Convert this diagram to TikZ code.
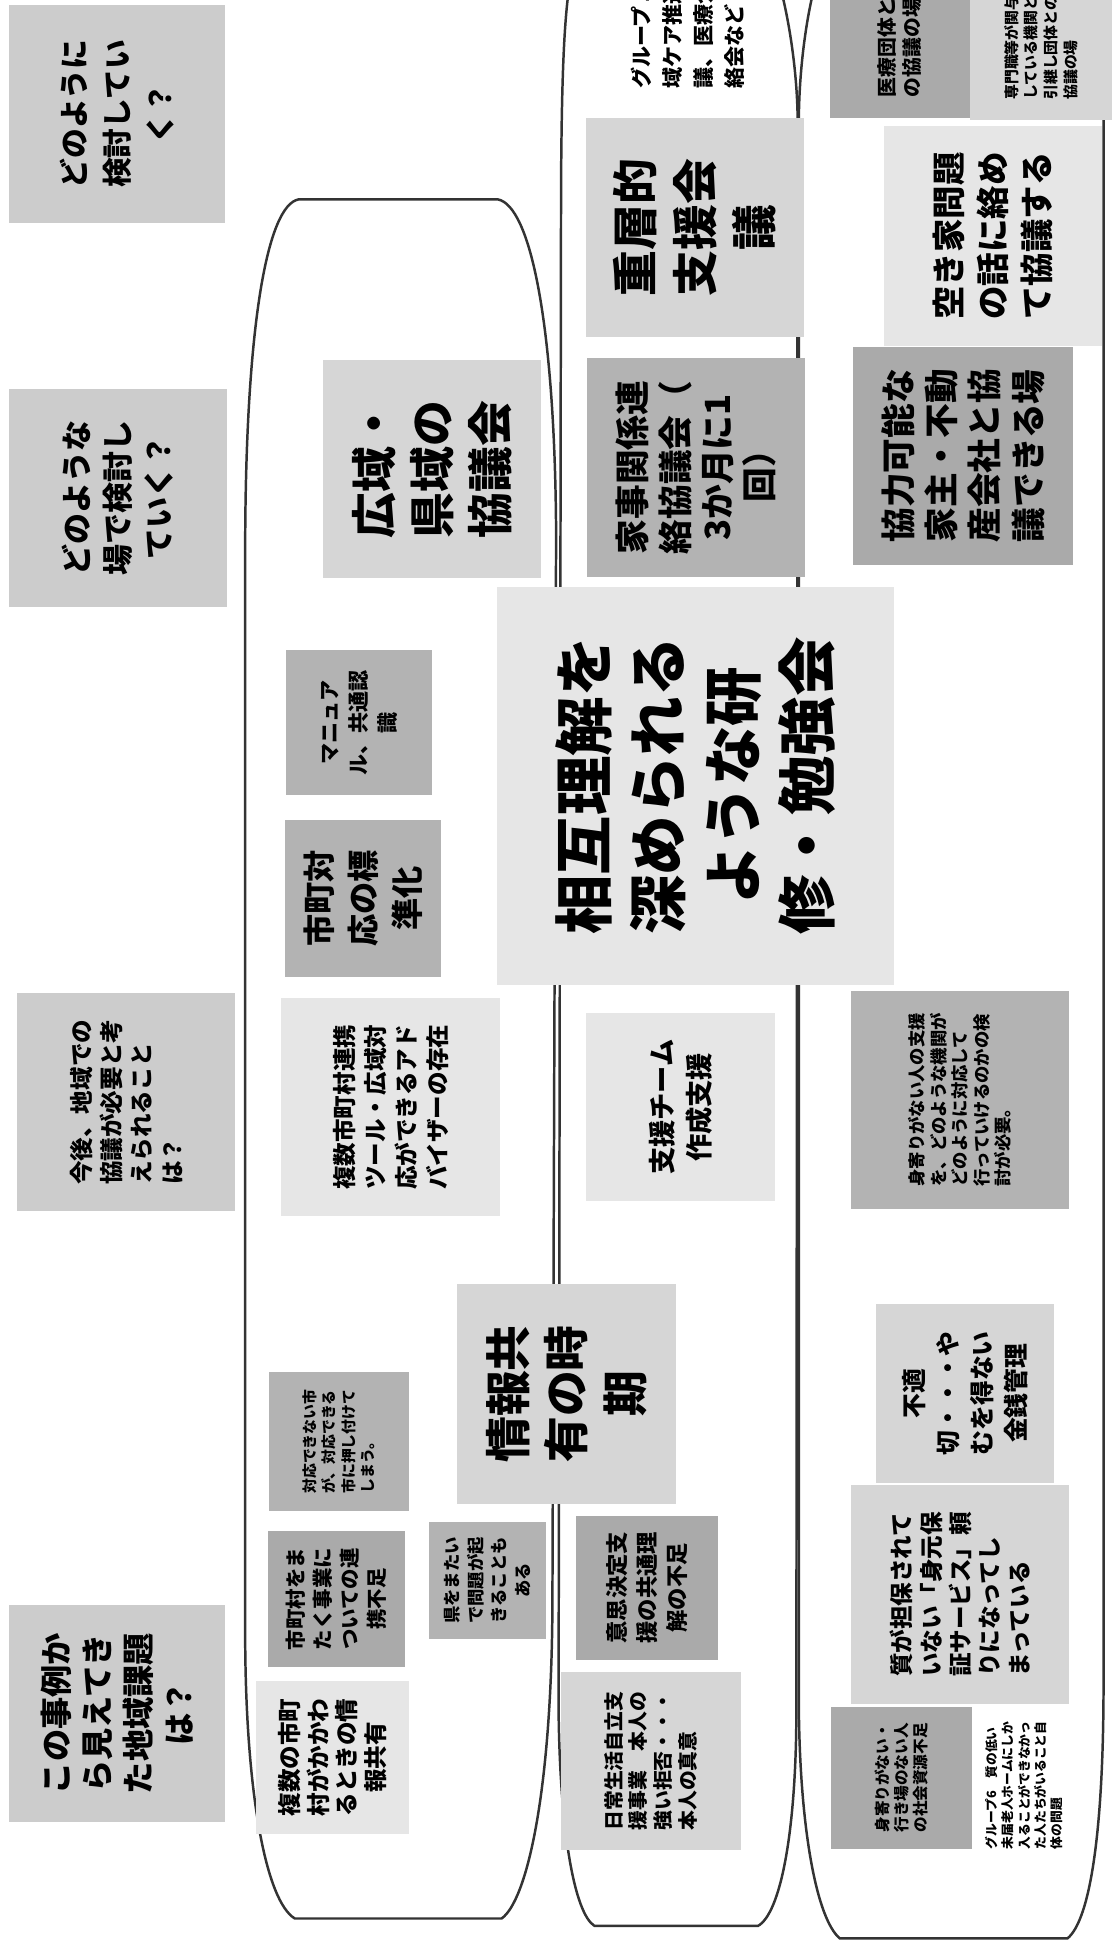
\documentclass[tikz,border=0pt]{standalone}
\usepackage{fontspec}
\newfontfamily\jp{Noto Sans CJK JP}
\definecolor{qgray}{HTML}{CCCCCC}
\definecolor{pale}{HTML}{E6E6E6}
\definecolor{light}{HTML}{D6D6D6}
\definecolor{mid}{HTML}{B3B3B3}
\definecolor{dark}{HTML}{AAAAAA}
\tikzset{
  note/.style={rotate=90, inner sep=0pt, align=center},
  fs/.style 2 args={font={\jp\bfseries\fontsize{#1}{#2}\selectfont}},
  wh/.style 2 args={minimum width=#2pt, minimum height=#1pt},
  ring/.style={draw=black!80, line width=2pt},
}

\begin{document}
\begin{tikzpicture}[x=1pt,y=-1pt]
    \useasboundingbox (0,0) rectangle (899,1568);
    \clip (0,0) rectangle (899,1568);
    \draw[ring] (241,161) -- (402,161) .. controls (428,166) and (448,260) .. (449,430) -- (446,1300) .. controls (445,1450) and (425,1535) .. (405,1549) -- (238,1549) .. controls (215,1535) and (199,1450) .. (198,1330) -- (198,430) .. controls (199,260) and (216,166) .. (241,161) -- cycle;
    \draw[ring] (490,-60) .. controls (460,-55) and (454,-20) .. (453,150) -- (451,1380) .. controls (452,1480) and (464,1545) .. (480,1555) -- (612,1555) .. controls (630,1545) and (643,1480) .. (643,1380) -- (644,94) .. controls (643,30) and (625,-52) .. (605,-60) -- cycle;
    \draw[ring] (690,-70) .. controls (664,-62) and (646,20) .. (645,94) -- (645,1380) .. controls (646,1480) and (660,1550) .. (678,1565) -- (862,1565) .. controls (880,1550) and (891,1480) .. (891,1360) -- (891,100) .. controls (891,20) and (882,-62) .. (862,-70) -- cycle;

    \node[note, fill=qgray, wh={175}{176}, fs={24}{35}] (q1) at (94.5,92) {どのように\\検討してい\\く？};
    \node[note, fill=qgray, wh={176}{176}, fs={25}{33}] (q2) at (95,402) {どのような\\場で検討し\\ていく？};
    \node[note, fill=qgray, wh={176}{176}, fs={19}{24.5}, align=left] (q3) at (102,890) {今後、地域での\\協議が必要と考\\えられること\\は？};
    \node[note, fill=qgray, wh={175}{175}, fs={26}{33}] (q4) at (94.5,1383.5) {この事例か\\ら見えてき\\た地域課題\\は？};

    \node[note, fill=light, wh={176}{176}, fs={37}{47}] (l1) at (349,379) {広域・\\県域の\\協議会};
    \node[note, fill=mid, wh={118}{117}, fs={17}{23.5}] (l2) at (290,583.5) {マニュア\\ル、共通認\\識};
    \node[note, fill=mid, wh={126}{127}, fs={26}{35.5}] (l3) at (293,725.5) {市町対\\応の標\\準化};
    \node[note, fill=pale, wh={177}{176}, fs={19}{25}, align=left] (l4) at (315.5,894) {複数市町村連携\\ツール・広域対\\応ができるアド\\バイザーの存在};
    \node[note, fill=light, wh={177}{177}, fs={37}{47}] (l5) at (457.5,1125.5) {情報共\\有の時\\期};
    \node[note, fill=mid, wh={113}{112}, fs={12}{15.5}, align=left] (l6) at (273.5,1164) {対応できない市\\が、対応できる\\市に押し付けて\\しまう。};
    \node[note, fill=dark, wh={111}{110}, fs={16.5}{22}] (l7) at (271.5,1291) {市町村をま\\たく事業に\\ついての連\\携不足};
    \node[note, fill=mid, wh={95}{94}, fs={14}{19}] (l8) at (393.5,1276) {県をまたい\\で問題が起\\きることも\\ある};
    \node[note, fill=pale, wh={123}{124}, fs={19}{23}] (l9) at (268.5,1419) {複数の市町\\村がかかわ\\るときの情\\報共有};

    \node[note, anchor=west, fs={17}{25}, align=left] (m0) at (555.5,72) {グループ１　地域\\域ケア推進会\\議、医療介護連\\絡会など};
    \node[note, fill=light, wh={176}{177}, fs={37}{48}] (m1) at (561,183.5) {重層的\\支援会\\議};
    \node[note, fill=mid, wh={176}{177}, fs={28}{34}] (m2) at (562,377.5) {家事関係連\\絡協議会（\\3か月に1\\回）};
    \node[note, fill=pale, wh={321}{321}, fs={48}{60}] (m3) at (561.5,634.5) {相互理解を\\深められる\\ような研\\修・勉強会};
    \node[note, fill=pale, wh={153}{152}, fs={22}{30}] (m4) at (549.5,894) {支援チーム\\作成支援};
    \node[note, fill=dark, wh={115}{116}, fs={18}{24}] (m5) at (522.5,1282) {意思決定支\\援の共通理\\解の不足};
    \node[note, fill=light, wh={145}{144}, fs={16}{20}, align=left] (m6) at (525.5,1422) {日常生活自立支\\援事業　本人の\\強い拒否・・・\\本人の真意};

    \node[note, fill=dark, wh={113}{113}, fs={16}{20}] (r0) at (726.5,38.5) {医療団体と\\の協議の場};
    \node[note, fill=light, wh={115}{117}, fs={12}{16}, align=left] (r1) at (840.5,38.5) {専門職等が関与\\している機関と\\引継し団体との\\協議の場};
    \node[note, fill=pale, wh={176}{177}, fs={27}{35.5}] (r2) at (802,190.5) {空き家問題\\の話に絡め\\て協議する};
    \node[note, fill=dark, wh={177}{176}, fs={28}{35}] (r3) at (777.5,368) {協力可能な\\家主・不動\\産会社と協\\議できる場};
    \node[note, fill=mid, wh={176}{176}, fs={14}{17.3}, align=left] (r4) at (775,888) {身寄りがない人の支援\\を、どのような機関が\\どのように対応して\\行っていけるのかの検\\討が必要。};
    \node[note, fill=light, wh={144}{144}, fs={20}{27.4}] (r5) at (779,1125) {不適\\切・・・や\\むを得ない\\金銭管理};
    \node[note, fill=light, wh={176}{177}, fs={19}{23.7}, align=left] (r6) at (775,1287.5) {質が担保されて\\いない「身元保\\証サービス」頼\\りになってし\\まっている};
    \node[note, fill=dark, wh={114}{115}, fs={12.6}{15.2}] (r7) at (728,1435.5) {身寄りがない・\\行き場のない人\\の社会資源不足};
    \node[note, fs={10.3}{13.2}, align=left] (r8) at (827,1441.5) {グループ6　質の低い\\未届老人ホームにしか\\入ることができなかっ\\た人たちがいること自\\体の問題};
\end{tikzpicture}
\end{document}
